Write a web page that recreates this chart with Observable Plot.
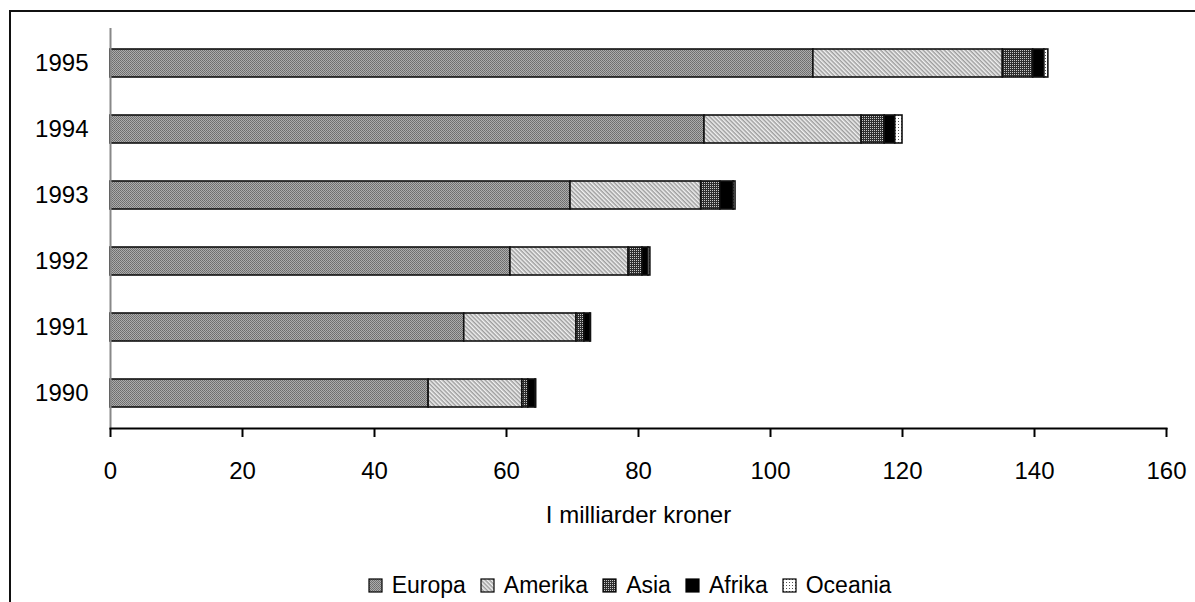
<!DOCTYPE html>
<html>
<head>
<meta charset="utf-8">
<script src="https://cdn.jsdelivr.net/npm/d3@7"></script>
<script src="https://cdn.jsdelivr.net/npm/@observablehq/plot@0.6"></script>
<style>
  html, body { margin: 0; padding: 0; background: #fff; }
  #wrap { position: relative; width: 1195px; height: 602px; overflow: hidden; font-family: "Liberation Sans", Arial, sans-serif; }
  #frame { position: absolute; left: 9px; top: 10px; width: 1400px; height: 900px; border-left: 2px solid #111; border-top: 2px solid #111; box-sizing: border-box; pointer-events: none; }
  #chart svg { display: block; }
  #legend { display: flex; justify-content: center; align-items: center; height: 26px; font-size: 23px; color: #000; padding-left: 64px; }
  #legend .item { display: flex; align-items: center; margin: 0 7px; }
  #legend svg { margin-right: 9px; }
</style>
</head>
<body>
<svg width="0" height="0" style="position:absolute">
  <defs>
    <!-- Europa: fine grey dither -->
    <pattern id="pat-Europa" patternUnits="userSpaceOnUse" width="2" height="2">
      <rect width="2" height="2" fill="#acacac"/>
      <rect x="0" y="0" width="1" height="1" fill="#6c6c6c"/>
      <rect x="1" y="1" width="1" height="1" fill="#747474"/>
    </pattern>
    <!-- Amerika: light diagonal stripes -->
    <pattern id="pat-Amerika" patternUnits="userSpaceOnUse" width="4" height="3" patternTransform="rotate(45)">
      <rect width="4" height="3" fill="#f2f2f2"/>
      <rect y="0" width="4" height="1.5" fill="#9c9c9c"/>
    </pattern>
    <!-- Asia: dark ground with a grid of light dots -->
    <pattern id="pat-Asia" patternUnits="userSpaceOnUse" width="2" height="2">
      <rect width="2" height="2" fill="#2e2e2e"/>
      <rect x="0" y="0" width="1" height="1" fill="#c8c8c8"/>
    </pattern>
    <!-- Afrika: solid black -->
    <pattern id="pat-Afrika" patternUnits="userSpaceOnUse" width="2" height="2">
      <rect width="2" height="2" fill="#000"/>
    </pattern>
    <!-- Oceania: white with sparse dots -->
    <pattern id="pat-Oceania" patternUnits="userSpaceOnUse" width="3" height="3">
      <rect width="3" height="3" fill="#fff"/>
      <rect x="1" y="1" width="1" height="1" fill="#555"/>
    </pattern>
  </defs>
</svg>
<div id="wrap">
  <div id="chart"></div>
  <div id="legend"></div>
  <div id="frame"></div>
</div>
<script>
// Export by destination, billions of kroner
const years = ["1995", "1994", "1993", "1992", "1991", "1990"];
const continents = ["Europa", "Amerika", "Asia", "Afrika", "Oceania"];
const europa  = [106.5, 90.0, 69.7, 60.6, 53.6, 48.2];
const amerika = [28.7, 23.8, 19.8, 17.9, 17.0, 14.2];
const asia    = [4.6, 3.5, 2.9, 2.1, 1.2, 0.9];
const afrika  = [1.7, 1.6, 2.0, 0.9, 0.9, 1.1];
const oceania = [0.6, 1.1, 0.3, 0.3, 0.1, 0.1];
const xTicks = [0, 20, 40, 60, 80, 100, 120, 140, 160];
const xLabel = "I milliarder kroner";

const series = {Europa: europa, Amerika: amerika, Asia: asia, Afrika: afrika, Oceania: oceania};
const rows = [];
years.forEach((year, i) => {
  continents.forEach(c => rows.push({year, continent: c, value: series[c][i]}));
});

const fills = continents.map(c => `url(#pat-${c})`);

const chart = Plot.plot({
  width: 1195,
  height: 572,
  marginLeft: 110,
  marginRight: 29,
  marginTop: 28,
  marginBottom: 144,
  style: {fontFamily: "'Liberation Sans', Arial, sans-serif", fontSize: "24px", color: "#000", background: "transparent", overflow: "visible"},
  x: {domain: [0, 160]},
  y: {domain: years, paddingInner: 0.58, paddingOuter: 0.29},
  color: {domain: continents, range: fills},
  marks: [
    Plot.barX(rows, {
      x: "value", y: "year", fill: "continent",
      order: continents, stroke: "#111", strokeWidth: 1.6
    }),
    Plot.ruleX([0], {stroke: "#888", strokeWidth: 2}),
    Plot.frame({anchor: "bottom", stroke: "#000", strokeWidth: 2}),
    Plot.axisX({
      ticks: xTicks, tickSize: 9, tickPadding: 24, tickFormat: d => String(d),
      stroke: "#000", strokeWidth: 2,
      label: xLabel, labelAnchor: "center", labelArrow: "none", labelOffset: 94
    }),
    Plot.axisY({tickSize: 0, tickPadding: 22, label: null})
  ]
});
document.getElementById("chart").appendChild(chart);

// Legend built from the same color scale
const color = chart.scale("color");
const legend = d3.select("#legend");
color.domain.forEach((name, i) => {
  const item = legend.append("span").attr("class", "item");
  const sw = item.append("svg").attr("width", 15).attr("height", 15);
  sw.append("rect").attr("x", 1).attr("y", 1).attr("width", 13).attr("height", 13)
    .attr("fill", color.range[i]).attr("stroke", "#000").attr("stroke-width", 1.2);
  item.append("span").text(name);
});
</script>
</body>
</html>
